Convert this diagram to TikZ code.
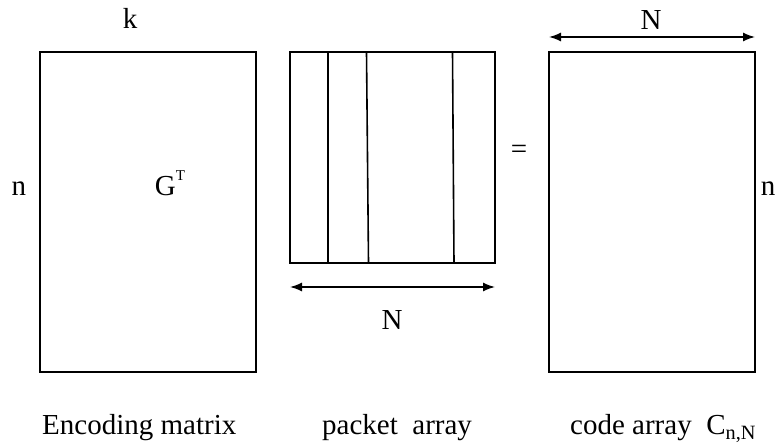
\documentclass[tikz,border=0pt]{standalone}
\usepackage{fontspec}
\setmainfont{Liberation Serif}
\usetikzlibrary{arrows.meta}
\tikzset{
  matbox/.style={draw, line width=1.6pt},
  colline/.style={line width=1.6pt},
  dimarrow/.style={line width=1.5pt, {Latex[length=12pt,width=9pt]}-{Latex[length=12pt,width=9pt]}},
  lbl/.style={inner sep=0pt, font=\fontsize{29}{34}\selectfont}
}
\begin{document}
\begin{tikzpicture}[x=1pt,y=-1pt]
\useasboundingbox (0,0) rectangle (779,443);
% boxes
\draw[matbox] (40,52) rectangle (256,372);
\draw[matbox] (290,52) rectangle (495,263);
\draw[matbox] (549,52) rectangle (755,372);
% packet columns
\coordinate (c1t) at (328,52); \coordinate (c1b) at (328,263);
\coordinate (c2t) at (366.5,52); \coordinate (c2b) at (368.5,263);
\coordinate (c3t) at (452.5,52); \coordinate (c3b) at (454,263);
\draw[colline] (c1t) -- (c1b);
\draw[colline] (c2t) -- (c2b);
\draw[colline] (c3t) -- (c3b);
% dimension arrows
\coordinate (ta) at (549,37); \coordinate (tb) at (755,37);
\coordinate (ba) at (290,287); \coordinate (bb) at (495,287);
\draw[dimarrow] (ta) -- (tb);
\draw[dimarrow] (ba) -- (bb);
% labels
\node[lbl] (k) at (130,18) {k};
\node[lbl, anchor=base] (GT) at (170,196) {G\raisebox{0.55em}{\fontsize{15}{15}\selectfont T}};
\node[lbl, anchor=base] (nl) at (19,196) {n};
\node[lbl, anchor=base] (nr) at (768,196) {n};
\node[lbl] (eq) at (519,152) {=};
\node[lbl] (Ntop) at (651,20) {N};
\node[lbl] (Nbot) at (392,320) {N};
\node[lbl, anchor=base west] (enc) at (42,435) {Encoding matrix};
\node[lbl, anchor=base west] (pkt) at (322,435) {packet\ \ array};
\node[lbl, anchor=base west] (code) at (570,435) {code array\ \ C\textsubscript{n,N}};
\end{tikzpicture}
\end{document}
